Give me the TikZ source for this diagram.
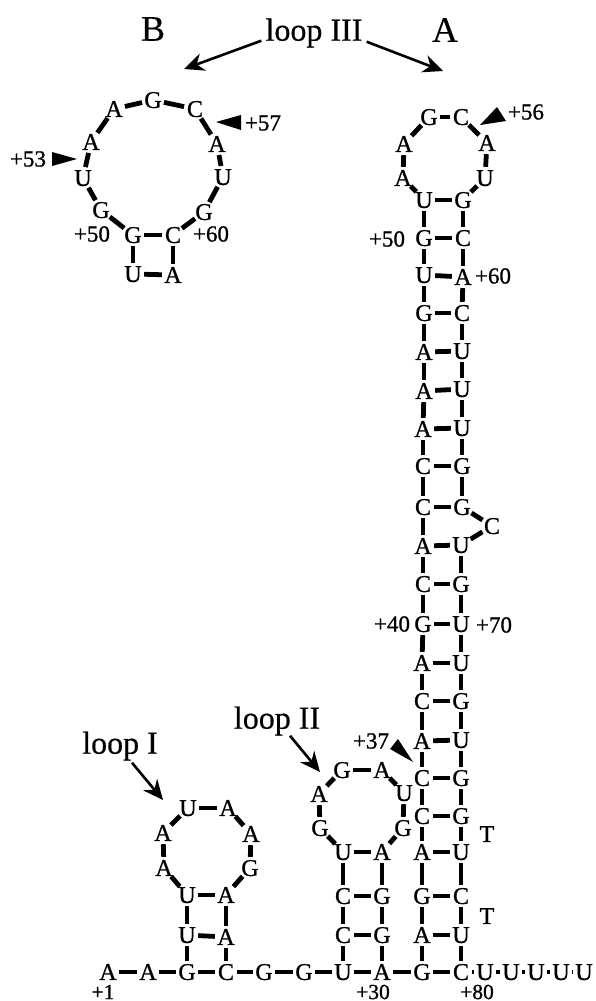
\documentclass[tikz,border=0pt]{standalone}
\usepackage{fontspec}
\setmainfont{Liberation Serif}
\newfontfamily\ntfont{Liberation Serif}[FakeBold=1.0]
\newfontfamily\headfont{Liberation Serif}[FakeBold=0.4]
\usetikzlibrary{arrows.meta}
\tikzset{
  nt/.style={circle,inner sep=0pt,minimum size=22pt,font=\ntfont\fontsize{24}{24}\selectfont},
  bond/.style={line width=4.8pt,black},
  poslabel/.style={inner sep=0pt,font=\ntfont\fontsize{23}{23}\selectfont},
  baselabel/.style={inner sep=0pt,font=\ntfont\fontsize{21.5}{21.5}\selectfont},
  bigletter/.style={inner sep=0pt,font=\headfont\fontsize{36}{36}\selectfont},
  loopname/.style={inner sep=0pt,font=\headfont\fontsize{32}{32}\selectfont},
  pointer/.style={line width=2.6pt,-{Stealth[length=20pt,width=18pt]}},
  wedge/.style={fill=black,draw=none}
}
\newcommand{\N}[3]{\node[nt] (#1) at (#2) {\raisebox{-0.33em}[0pt][0pt]{\makebox[0pt]{#3}}};}
\begin{document}
\begin{tikzpicture}[x=1pt,y=-1pt]
\useasboundingbox (0,0) rectangle (595,1001);
% headings
\node[bigletter] (B) at (153,29) {B};
\node[bigletter] (A) at (445,30) {A};
\node[loopname] (l3) at (314,33) {loop III};
\node[loopname] (l2) at (277,721) {loop II};
\node[loopname] (l1) at (120,746) {loop I};
\coordinate (t3b) at (184,69);
\coordinate (t3a) at (443,71);
\coordinate (t2) at (320,772);
\coordinate (t1) at (163,800);
\draw[pointer] (l3.south west) ++(-4,-7) -- (t3b);
\draw[pointer] (l3.south east) ++(4,-6) -- (t3a);
\draw[pointer] (l2.south) ++(13,0) -- (t2);
\draw[pointer] (l1.south) ++(12,2) -- (t1);
% hairpin B
\N{bG1}{153,100}{G}\N{bA1}{114,109}{A}\N{bC1}{195,109}{C}
\N{bA2}{91,142}{A}\N{bA3}{217,144}{A}
\N{bU1}{83,178}{U}\N{bU2}{223,177}{U}
\N{bG2}{101,210}{G}\N{bG3}{204,212}{G}
\N{bG4}{133,235}{G}\N{bC2}{173,235}{C}
\N{bU3}{133,274}{U}\N{bA4}{173,275}{A}
\foreach \p/\q in {bU3/bA4,bU3/bG4,bA4/bC2,bG4/bC2,bG4/bG2,bG2/bU1,bU1/bA2,bA2/bA1,bA1/bG1,bG1/bC1,bC1/bA3,bA3/bU2,bU2/bG3,bG3/bC2}
  \draw[bond] (\p) -- (\q);
\node[poslabel] (p53) at (28,159) {+53};
\node[poslabel] (p57) at (263,123) {+57};
\node[poslabel] (p50b) at (92,234) {+50};
\node[poslabel] (p60b) at (211,234) {+60};
\fill[wedge] (77,159) -- (52,152) -- (52,166) -- cycle;
\fill[wedge] (216,122) -- (241,115) -- (241,130) -- cycle;
% hairpin A: loop III
\N{aG0}{429,117}{G}\N{aC0}{461,117}{C}
\N{aA0}{404,144}{A}\N{aA1}{487,143}{A}
\N{aA2}{403,178}{A}\N{aU0}{485,178}{U}
% long stem: left and right strands
\N{L1}{424,200}{U}\N{R1}{463,200}{G}
\N{L2}{424,238}{G}\N{R2}{463,238}{C}
\N{L3}{424,275}{U}\N{R3}{463,277}{A}
\N{L4}{424,313}{G}\N{R4}{462,313}{C}
\N{L5}{424,352}{A}\N{R5}{462,351}{U}
\N{L6}{424,391}{A}\N{R6}{462,389}{U}
\N{L7}{423,429}{A}\N{R7}{462,428}{U}
\N{L8}{423,466}{C}\N{R8}{462,466}{G}
\N{L9}{423,507}{C}\N{R9}{462,507}{G}
\N{L10}{423,546}{A}\N{R10}{461,545}{U}
\N{L11}{423,584}{C}\N{R11}{461,584}{G}
\N{L12}{423,624}{G}\N{R12}{461,624}{U}
\N{L13}{422,663}{A}\N{R13}{461,663}{U}
\N{L14}{422,701}{C}\N{R14}{461,701}{G}
\N{L15}{422,741}{A}\N{R15}{461,740}{U}
\N{L16}{422,778}{C}\N{R16}{461,778}{G}
\N{L17}{422,816}{C}\N{R17}{461,816}{G}
\N{L18}{422,852}{A}\N{R18}{461,852}{U}
\N{L19}{422,896}{G}\N{R19}{461,896}{C}
\N{L20}{422,935}{A}\N{R20}{461,935}{U}
\N{L21}{422,972}{G}\N{R21}{461,972}{C}
\N{bulge}{492,526}{C}
\foreach \i in {1,...,21} \draw[bond] (L\i) -- (R\i);
\foreach \i [evaluate=\i as \j using int(\i+1)] in {1,...,20} {
  \draw[bond] (L\i) -- (L\j);
  \ifnum\i=9\else\draw[bond] (R\i) -- (R\j);\fi
}
\foreach \p/\q in {R9/bulge,bulge/R10,L1/aA2,aA2/aA0,aA0/aG0,aG0/aC0,aC0/aA1,aA1/aU0,aU0/R1}
  \draw[bond] (\p) -- (\q);
\node[poslabel] (p50a) at (387,239) {+50};
\node[poslabel] (p60a) at (493,276) {+60};
\node[poslabel] (p56) at (526,112) {+56};
\node[poslabel] (p40) at (392,624) {+40};
\node[poslabel] (p70) at (494,625) {+70};
\node[poslabel] (p37) at (371,741) {+37};
\fill[wedge] (480,125) -- (497,107) -- (506,121) -- cycle;
\fill[wedge] (413,762) -- (398,739) -- (390,749) -- cycle;
\N{T1}{487,834}{T}
\N{T2}{487,916}{T}
% loop II
\N{iG}{342,770}{G}\N{iA}{382,770}{A}
\N{iA2}{319,794}{A}\N{iU}{404,793}{U}
\N{iG2}{320,828}{G}\N{iG3}{403,828}{G}
\N{iU2}{343,852}{U}\N{iA3}{382,852}{A}
\N{iC1}{343,896}{C}\N{iG4}{382,896}{G}
\N{iC2}{343,935}{C}\N{iG5}{382,935}{G}
% loop I
\N{hU}{188,808}{U}\N{hA}{228,808}{A}
\N{hA2}{163,833}{A}\N{hA3}{251,834}{A}
\N{hA4}{164,868}{A}\N{hG}{250,868}{G}
\N{hU2}{187,895}{U}\N{hA5}{226,895}{A}
\N{hU3}{187,935}{U}\N{hA6}{226,937}{A}
% 5' and 3' strand
\N{s1}{108,972}{A}\N{s2}{148,972}{A}\N{s3}{187,972}{G}\N{s4}{226,972}{C}
\N{s5}{264,972}{G}\N{s6}{304,972}{G}\N{s7}{343,972}{U}\N{s8}{382,972}{A}
\N{u1}{485,972}{U}\N{u2}{511,972}{U}\N{u3}{536,972}{U}\N{u4}{561,972}{U}\N{u5}{584,972}{U}
\foreach \p/\q in {iU2/iC1,iC1/iC2,iC2/s7,iA3/iG4,iG4/iG5,iG5/s8,iU2/iA3,iC1/iG4,iC2/iG5,
  iU2/iG2,iG2/iA2,iA2/iG,iG/iA,iA/iU,iU/iG3,iG3/iA3,
  hU/hA,hU/hA2,hA2/hA4,hA4/hU2,hA/hA3,hA3/hG,hG/hA5,hU2/hA5,hU3/hA6,hU2/hU3,hA5/hA6,hU3/s3,hA6/s4,
  s1/s2,s2/s3,s3/s4,s4/s5,s5/s6,s6/s7,s7/s8,s8/L21,R21/u1,u1/u2,u2/u3,u3/u4,u4/u5}
  \draw[bond] (\p) -- (\q);
\node[baselabel] (p1) at (103,992) {+1};
\node[baselabel] (p30) at (373,992) {+30};
\node[baselabel] (p80) at (477,992) {+80};
\end{tikzpicture}
\end{document}
